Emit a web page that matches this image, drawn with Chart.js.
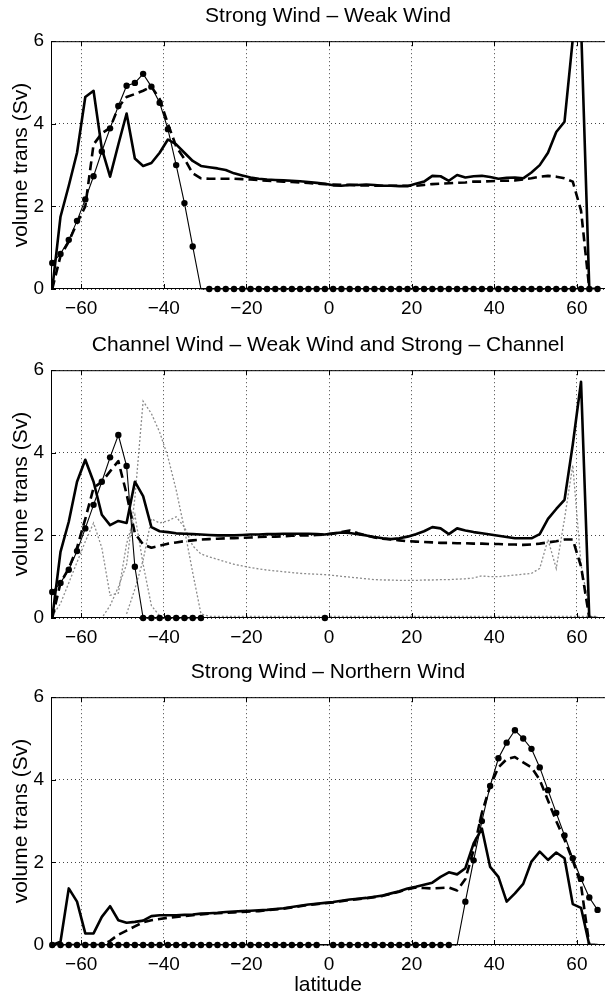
<!DOCTYPE html>
<html>
<head>
<meta charset="utf-8">
<script src="https://cdn.jsdelivr.net/npm/chart.js@4.4.1/dist/chart.umd.min.js"></script>
<style>
  html, body { margin: 0; padding: 0; background: #fff; overflow: hidden; }
  canvas { position: absolute; left: 0; }
</style>
</head>
<body>
<canvas id="p1" width="609" height="328" style="top:0px"></canvas>
<canvas id="p2" width="609" height="328" style="top:329px"></canvas>
<canvas id="p3" width="609" height="342" style="top:656px"></canvas>
<script>
// latitude grid (odd degrees)
const lat = [-67, -65, -63, -61, -59, -57, -55, -53, -51, -49,
  -47, -45, -43, -41, -39, -37, -35, -33, -31, -29,
  -27, -25, -23, -21, -19, -17, -15, -13, -11, -9,
  -7, -5, -3, -1, 1, 3, 5, 7, 9, 11,
  13, 15, 17, 19, 21, 23, 25, 27, 29, 31,
  33, 35, 37, 39, 41, 43, 45, 47, 49, 51,
  53, 55, 57, 59, 61, 63, 65];

const xTicks = [-60, -40, -20, 0, 20, 40, 60];
const yTicks = [0, 2, 4, 6];

// panel 1: Strong Wind - Weak Wind
const solid1 = [0, 1.75, 2.5, 3.3, 4.65, 4.8, 3.4, 2.72, 3.5, 4.25,
  3.16, 2.98, 3.05, 3.3, 3.62, 3.5, 3.3, 3.1, 2.98, 2.95,
  2.92, 2.88, 2.8, 2.75, 2.7, 2.67, 2.65, 2.64, 2.63, 2.62,
  2.61, 2.59, 2.57, 2.55, 2.51, 2.5, 2.52, 2.52, 2.53, 2.52,
  2.5, 2.5, 2.49, 2.49, 2.55, 2.6, 2.74, 2.73, 2.62, 2.76,
  2.7, 2.73, 2.74, 2.71, 2.67, 2.69, 2.7, 2.68, 2.82, 3.0,
  3.3, 3.8, 4.05, 6.05, 6.4, 0, 0];
const dash1 = [0, 0.8, 1.15, 1.6, 2.0, 3.5, 3.77, 3.9, 4.4, 4.65,
  4.72, 4.8, 4.9, 4.6, 4.0, 3.45, 3.15, 2.8, 2.68, 2.67,
  2.67, 2.67, 2.67, 2.66, 2.65, 2.64, 2.62, 2.61, 2.6, 2.59,
  2.58, 2.57, 2.55, 2.54, 2.53, 2.52, 2.52, 2.51, 2.51, 2.5,
  2.5, 2.5, 2.5, 2.5, 2.5, 2.52, 2.54, 2.55, 2.56, 2.57,
  2.58, 2.6, 2.6, 2.61, 2.62, 2.62, 2.63, 2.65, 2.68, 2.72,
  2.74, 2.72, 2.68, 2.6, 1.9, 0, 0];
const dots1 = [0.63, 0.85, 1.19, 1.65, 2.17, 2.73, 3.33, 3.89, 4.43, 4.92,
  4.99, 5.21, 4.9, 4.51, 3.87, 3.0, 2.08, 1.03, 0, 0,
  0, 0, 0, 0, 0, 0, 0, 0, 0, 0,
  0, 0, 0, 0, 0, 0, 0, 0, 0, 0,
  0, 0, 0, 0, 0, 0, 0, 0, 0, 0,
  0, 0, 0, 0, 0, 0, 0, 0, 0, 0,
  0, 0, 0, 0, 0, 0, 0];
const noDot1 = [-31];

// panel 2: Channel Wind - Weak Wind and Strong - Channel
const solid2 = [0, 1.6, 2.33, 3.3, 3.83, 3.3, 2.5, 2.25, 2.35, 2.3,
  3.3, 2.95, 2.2, 2.1, 2.08, 2.05, 2.04, 2.03, 2.02, 2.01,
  2.0, 2.0, 2.0, 2.01, 2.02, 2.02, 2.03, 2.03, 2.04, 2.04,
  2.04, 2.04, 2.03, 2.02, 2.05, 2.07, 2.06, 2.03, 2.0, 1.96,
  1.93, 1.91, 1.93, 1.97, 2.03, 2.1, 2.2, 2.17, 2.03, 2.17,
  2.12, 2.08, 2.05, 2.02, 1.99, 1.96, 1.93, 1.93, 1.93, 2.03,
  2.4, 2.64, 2.86, 4.2, 5.72, 0, 0];
const dash2 = [0, 0.85, 1.2, 1.7, 2.4, 3.15, 3.3, 3.55, 3.8, 3.0,
  2.05, 1.78, 1.7, 1.75, 1.8, 1.83, 1.86, 1.88, 1.9, 1.91,
  1.92, 1.93, 1.93, 1.94, 1.95, 1.96, 1.97, 1.97, 1.98, 1.99,
  2.0, 2.0, 2.01, 2.02, 2.04, 2.08, 2.12, 2.05, 2.0, 1.95,
  1.92, 1.9, 1.88, 1.86, 1.85, 1.84, 1.83, 1.82, 1.82, 1.81,
  1.81, 1.8, 1.8, 1.79, 1.79, 1.78, 1.78, 1.77, 1.78, 1.8,
  1.83, 1.86, 1.9, 1.9, 1.25, 0, 0];
const dots2 = [0.63, 0.85, 1.17, 1.62, 2.17, 2.74, 3.3, 3.89, 4.43, 3.68,
  1.24, 0, 0, 0, 0, 0, 0, 0, 0, null,
  null, null, null, null, null, null, null, null, null, null,
  null, null, null, 0, null, null, null, null, null, null,
  null, null, null, null, null, null, null, null, null, null,
  null, null, null, null, null, null, null, null, null, null,
  null, null, null, null, null, null, null];
const noDot2 = [];
const grayA = [0, 0, 0, 0, 0, 0, 0, 0.3, 0.75, 1.3,
  2.9, 5.25, 4.95, 4.5, 3.9, 3.1, 2.15, 1.1, 0.1, 0.04,
  0.04, 0.04, 0.04, 0.04, 0.04, 0.04, 0.04, 0.04, 0.04, 0.04,
  0.04, 0.04, 0.04, 0.04, 0.04, 0.04, 0.04, 0.04, 0.04, 0.04,
  0.04, 0.04, 0.04, 0.04, 0.04, 0.04, 0.04, 0.04, 0.04, 0.04,
  0.04, 0.04, 0.04, 0.04, 0.04, 0.04, 0.04, 0.04, 0.04, 0.04,
  0.04, 0.04, 0.04, 0.04, 0.04, 0.04, 0.04];
const grayB = [0.05, 0.35, 0.85, 1.35, 1.85, 2.3, 1.7, 0.55, 0.6, 1.8,
  2.5, 1.3, 0.3, 0.05, null, null, null, null, null, null,
  null, null, null, null, null, null, null, null, null, null,
  null, null, null, null, null, null, null, null, null, null,
  null, null, null, null, null, null, null, null, null, null,
  null, null, null, null, null, null, null, null, null, null,
  null, null, null, null, null, null, null];
const grayC = [null, null, null, null, null, null, null, null, null, 0.1,
  0.7, 1.4, 2.4, 2.3, 2.35, 2.45, 2.2, 1.75, 1.55, 1.48,
  1.42, 1.36, 1.3, 1.26, 1.22, 1.19, 1.16, 1.14, 1.12, 1.1,
  1.08, 1.07, 1.06, 1.05, 1.03, 1.01, 0.99, 0.97, 0.95, 0.93,
  0.92, 0.92, 0.91, 0.91, 0.91, 0.92, 0.92, 0.93, 0.93, 0.94,
  0.95, 0.97, 1.02, 1.0, 1.0, 1.02, 1.04, 1.06, 1.08, 1.2,
  1.9, 1.2, 2.4, 3.7, 1.3, 0.2, null];

// panel 3: Strong Wind - Northern Wind
const solid3 = [0, 0.08, 1.37, 1.05, 0.28, 0.28, 0.68, 0.94, 0.6, 0.54,
  0.56, 0.59, 0.7, 0.72, 0.72, 0.72, 0.73, 0.74, 0.76, 0.77,
  0.78, 0.8, 0.81, 0.82, 0.83, 0.84, 0.85, 0.87, 0.89, 0.92,
  0.95, 0.98, 1.0, 1.02, 1.04, 1.07, 1.1, 1.12, 1.14, 1.17,
  1.2, 1.25, 1.3, 1.37, 1.41, 1.46, 1.51, 1.65, 1.76, 1.71,
  1.86, 2.46, 2.82, 1.89, 1.65, 1.05, 1.25, 1.48, 2.02, 2.26,
  2.06, 2.24, 2.1, 0.99, 0.9, 0, 0];
const dash3 = [0, 0, 0, 0, 0, 0, 0, 0.1, 0.25, 0.35,
  0.45, 0.55, 0.6, 0.63, 0.66, 0.68, 0.7, 0.72, 0.74, 0.76,
  0.77, 0.78, 0.79, 0.8, 0.81, 0.82, 0.84, 0.86, 0.88, 0.91,
  0.94, 0.97, 0.99, 1.01, 1.03, 1.06, 1.09, 1.11, 1.13, 1.16,
  1.19, 1.24, 1.29, 1.35, 1.39, 1.38, 1.37, 1.38, 1.39, 1.32,
  1.6, 2.3, 3.2, 3.85, 4.3, 4.5, 4.55, 4.42, 4.3, 4.0,
  3.5, 3.0, 2.55, 2.05, 1.45, 0, 0];
const dots3 = [0, 0, 0, 0, 0, 0, 0, 0, 0, 0,
  0, 0, 0, 0, 0, 0, 0, 0, 0, 0,
  0, 0, 0, 0, 0, 0, 0, 0, 0, 0,
  0, 0, 0, 0, 0, 0, 0, 0, 0, 0,
  0, 0, 0, 0, 0, 0, 0, 0, 0, 0,
  1.05, 2.05, 3.0, 3.85, 4.52, 4.9, 5.2, 5.0, 4.75, 4.3,
  3.75, 3.2, 2.65, 2.1, 1.6, 1.15, 0.85];
const noDot3 = [-1, 31];

Chart.defaults.font.family = "'Liberation Sans', Arial, sans-serif";
Chart.defaults.color = '#000';

const pts = arr => lat.map((x, i) => ({ x: x, y: arr[i] }));

const solidSet = arr => ({ data: pts(arr), borderColor: '#000', borderWidth: 2.6,
  pointRadius: 0, borderJoinStyle: 'round' });
const dashSet = arr => ({ data: pts(arr), borderColor: '#000', borderWidth: 2.6,
  borderDash: [9, 5], pointRadius: 0, borderJoinStyle: 'round' });
const dotSet = (arr, noDot) => ({ data: pts(arr), borderColor: '#000', borderWidth: 1.1,
  pointRadius: lat.map(v => noDot.includes(v) ? 0 : 3.2),
  pointBackgroundColor: '#000', pointBorderWidth: 0, clip: false });
const graySet = arr => ({ data: pts(arr), borderColor: '#8c8c8c', borderWidth: 1.3,
  borderDash: [2, 2], pointRadius: 0 });

// axes box + inward ticks, like the original figure
const frame = {
  id: 'frame',
  afterDraw(chart) {
    const { ctx, chartArea: a, scales: { x, y } } = chart;
    ctx.save();
    ctx.strokeStyle = '#000';
    ctx.lineWidth = 1;
    ctx.setLineDash([]);
    ctx.beginPath();
    ctx.moveTo(a.right, a.top + 0.5);
    ctx.lineTo(a.left + 0.5, a.top + 0.5);
    ctx.lineTo(a.left + 0.5, a.bottom - 0.5);
    ctx.lineTo(a.right, a.bottom - 0.5);
    x.ticks.forEach(t => {
      const px = Math.round(x.getPixelForValue(t.value)) + 0.5;
      ctx.moveTo(px, a.bottom); ctx.lineTo(px, a.bottom - 5);
      ctx.moveTo(px, a.top); ctx.lineTo(px, a.top + 5);
    });
    y.ticks.forEach(t => {
      const py = Math.round(y.getPixelForValue(t.value)) + 0.5;
      ctx.moveTo(a.left, py); ctx.lineTo(a.left + 5, py);
    });
    ctx.stroke();
    ctx.restore();
  }
};

function makePanel(id, title, sets, showXTitle) {
  const canvas = document.getElementById(id);
  const h = canvas.height;
  new Chart(canvas, {
    type: 'line',
    data: { datasets: sets },
    options: {
      responsive: false,
      animation: false,
      events: [],
      layout: { padding: { top: 4, left: 0, right: 0, bottom: 0 } },
      plugins: {
        legend: { display: false },
        tooltip: { enabled: false },
        title: {
          display: true, text: title, color: '#000', fullSize: false,
          font: { size: 21, weight: 'normal' },
          padding: { top: 0, bottom: 12 }
        }
      },
      scales: {
        x: {
          type: 'linear', min: -67.3, max: 66.8,
          afterBuildTicks: s => { s.ticks = xTicks.map(v => ({ value: v })); },
          afterFit: s => { s.height = h - 289; },
          grid: { color: '#444', lineWidth: 1, drawTicks: false },
          border: { display: false, dash: [1, 3] },
          ticks: {
            font: { size: 19 }, padding: 8, maxRotation: 0,
            callback: v => v < 0 ? '\u2212' + (-v) : String(v)
          },
          title: {
            display: showXTitle, text: 'latitude',
            font: { size: 21 }, padding: { top: 0, bottom: 0 }
          }
        },
        y: {
          min: 0, max: 6,
          afterBuildTicks: s => { s.ticks = yTicks.map(v => ({ value: v })); },
          afterFit: s => { s.width = 51; },
          grid: { color: '#444', lineWidth: 1, drawTicks: false },
          border: { display: false, dash: [1, 3] },
          ticks: { font: { size: 19 }, padding: 7 },
          title: {
            display: true, text: 'volume trans (Sv)',
            font: { size: 21 }, padding: { top: 9, bottom: 0 }
          }
        }
      }
    },
    plugins: [frame]
  });
}

makePanel('p1', 'Strong Wind \u2013 Weak Wind', [
  solidSet(solid1), dashSet(dash1), dotSet(dots1, noDot1)
], false);

makePanel('p2', 'Channel Wind \u2013 Weak Wind and Strong \u2013 Channel', [
  solidSet(solid2), dashSet(dash2), dotSet(dots2, noDot2),
  graySet(grayA), graySet(grayB), graySet(grayC)
], false);

makePanel('p3', 'Strong Wind \u2013 Northern Wind', [
  solidSet(solid3), dashSet(dash3), dotSet(dots3, noDot3)
], true);
</script>
</body>
</html>
